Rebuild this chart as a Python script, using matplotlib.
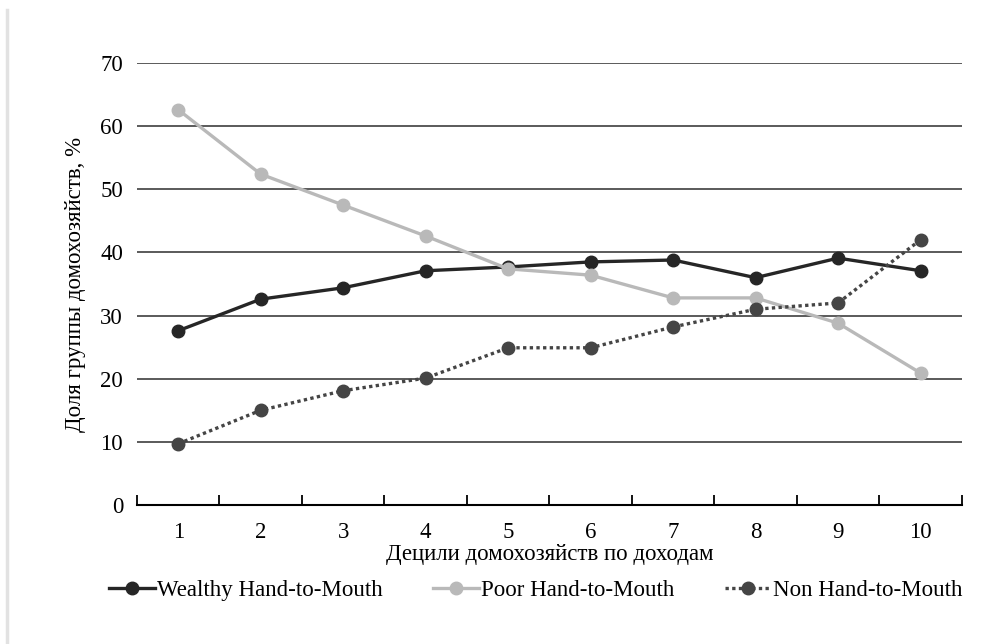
import matplotlib.pyplot as plt
from matplotlib.lines import Line2D
import numpy as np

# данные (доли групп по децилям доходов, %)
deciles = [1, 2, 3, 4, 5, 6, 7, 8, 9, 10]
wealthy = [27.6, 32.6, 34.4, 37.1, 37.7, 38.5, 38.8, 36.0, 39.1, 37.1]
poor = [62.6, 52.4, 47.5, 42.6, 37.4, 36.4, 32.8, 32.8, 28.8, 20.9]
non_htm = [9.7, 15.0, 18.1, 20.1, 24.9, 24.9, 28.2, 31.0, 32.0, 42.0]
yticks = [0, 10, 20, 30, 40, 50, 60, 70]

plt.rcParams['font.family'] = ['Liberation Serif', 'DejaVu Serif']
fs = 16.5

fig = plt.figure(figsize=(10.05, 6.44), dpi=100)
ax = fig.add_axes([0.1363, 0.2158, 0.8207, 0.6864])

ax.set_ylim(0, 70)
ax.set_xlim(0.5, 10.5)
ax.set_yticks(yticks)
ax.yaxis.grid(True, color='#5a5a5a', linewidth=1.4)
ax.set_axisbelow(True)

ax.plot(deciles, wealthy, color='#262626', lw=2.4, marker='o', ms=9,
        label='Wealthy Hand-to-Mouth', zorder=3)
ax.plot(deciles, poor, color='#b9b9b9', lw=2.4, marker='o', ms=9,
        label='Poor Hand-to-Mouth', zorder=3)
ax.plot(deciles, non_htm, color='#454545', lw=2.4, marker='o', ms=9,
        linestyle=(0, (1, 1)), dash_capstyle='butt',
        label='Non Hand-to-Mouth', zorder=3)

for s in ['top', 'right', 'left']:
    ax.spines[s].set_visible(False)
ax.spines['bottom'].set_linewidth(1.5)
ax.spines['bottom'].set_color('black')

# метки категорий по центру, засечки между ними
ax.set_xticks(np.arange(0.5, 11, 1))
ax.set_xticklabels([])
ax.set_xticks(deciles, minor=True)
ax.set_xticklabels([str(d) for d in deciles], minor=True, fontsize=fs)
ax.tick_params(axis='x', which='major', direction='in', length=7, width=1.3)
ax.tick_params(axis='x', which='minor', length=0, pad=12)
ax.tick_params(axis='y', length=0, labelsize=fs, pad=10)

ax.set_xlabel('Децили домохозяйств по доходам', fontsize=fs, labelpad=1)
ax.set_ylabel('Доля группы домохозяйств, %', fontsize=fs, labelpad=10)

fig.legend(loc='center', bbox_to_anchor=(0.533, 0.083), ncol=3, frameon=False,
           fontsize=fs, handlelength=2.0, handletextpad=0.1, columnspacing=2.2)

# тень края страницы слева
fig.add_artist(Line2D([0.007, 0.007], [0.0, 0.985], color='#e2e2e2', lw=2.5))

fig.savefig('out.png', dpi=100)
